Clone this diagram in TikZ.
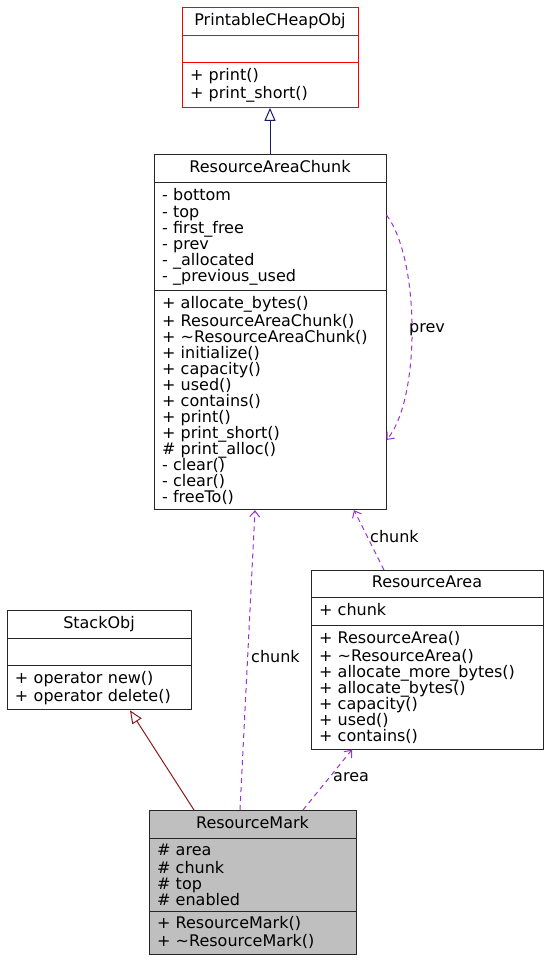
\documentclass[tikz,border=0pt]{standalone}
\usepackage{fontspec}
\setmainfont{DejaVu Sans}
\usepackage{xcolor}
\usetikzlibrary{shapes.multipart}
\usetikzlibrary{arrows.meta}

\definecolor{inhblue}{HTML}{191970}
\definecolor{inhred}{HTML}{8B1A1A}
\definecolor{usecolor}{HTML}{9A32CD}

\tikzset{
  umlclass/.style={draw=black!85, line width=1pt, rectangle split, rectangle split parts=3,
    align=left, inner xsep=8pt, inner ysep=5pt, anchor=north, font=\fontsize{16}{16}\selectfont},
  inherit/.style={-{Triangle[open,length=13pt,width=11pt]}, line width=1pt},
  uses/.style={-{Straight Barb[length=6pt,width=10pt]}, usecolor, line width=1pt, dash pattern=on 5pt off 4pt},
  lbl/.style={anchor=west, inner sep=0pt, font=\fontsize{16}{16}\selectfont}
}

\begin{document}
\begin{tikzpicture}[x=1pt,y=-1pt]
    \useasboundingbox (0,0) rectangle (551,962);
    % classes
    \node[umlclass, draw=red, text width=160pt] (cheapobj) at (270,7)
        {\centering\strut PrintableCHeapObj\par
         \nodepart{second}\strut
         \nodepart{third}\strut + print()\\ + print\_short()};
    \node[umlclass, text width=216pt] (rachunk) at (270,154)
        {\centering\strut ResourceAreaChunk\par
         \nodepart{second}\strut - bottom\\ - top\\ - first\_free\\ - prev\\ - \_allocated\\ - \_previous\_used
         \nodepart{third}\strut + allocate\_bytes()\\ + ResourceAreaChunk()\\ + \textasciitilde ResourceAreaChunk()\\
           + initialize()\\ + capacity()\\ + used()\\ + contains()\\ + print()\\ + print\_short()\\
           \# print\_alloc()\\ - clear()\\ - clear()\\ - freeTo()};
    \node[umlclass, text width=216pt] (rarea) at (427,570)
        {\centering\strut ResourceArea\par
         \nodepart{second}\strut + chunk
         \nodepart{third}\strut + ResourceArea()\\ + \textasciitilde ResourceArea()\\ + allocate\_more\_bytes()\\
           + allocate\_bytes()\\ + capacity()\\ + used()\\ + contains()};
    \node[umlclass, text width=168pt] (stackobj) at (99,610)
        {\centering\strut StackObj\par
         \nodepart{second}\strut
         \nodepart{third}\strut + operator new()\\ + operator delete()};
    \node[umlclass, fill=black!25, text width=191pt] (rmark) at (252.5,810)
        {\centering\strut ResourceMark\par
         \nodepart{second}\strut \# area\\ \# chunk\\ \# top\\ \# enabled
         \nodepart{third}\strut + ResourceMark()\\ + \textasciitilde ResourceMark()};

    % inheritance
    \draw[inherit, inhblue] (rachunk.north) -- (cheapobj.south);
    \draw[inherit, inhred] ([xshift=-58.5pt]rmark.north) -- ([xshift=31pt]stackobj.south);

    % usage
    \draw[uses] ([xshift=-12.5pt]rmark.north) -- ([xshift=-15pt]rachunk.south);
    \draw[uses] ([xshift=-43pt]rarea.north) -- ([xshift=84pt]rachunk.south);
    \draw[uses] ([xshift=50.5pt]rmark.north) -- ([xshift=-75pt]rarea.south);
    \draw[uses] ([yshift=-61pt]rachunk.north east) .. controls +(34,45) and +(34,-40) .. ([yshift=-286pt]rachunk.north east);

    \node[lbl] (lblchunk) at (251,657) {chunk};
    \node[lbl] (lblachunk) at (370,537) {chunk};
    \node[lbl] (lblarea) at (333,777) {area};
    \node[lbl] (lblprev) at (409,330) {prev};
\end{tikzpicture}
\end{document}
